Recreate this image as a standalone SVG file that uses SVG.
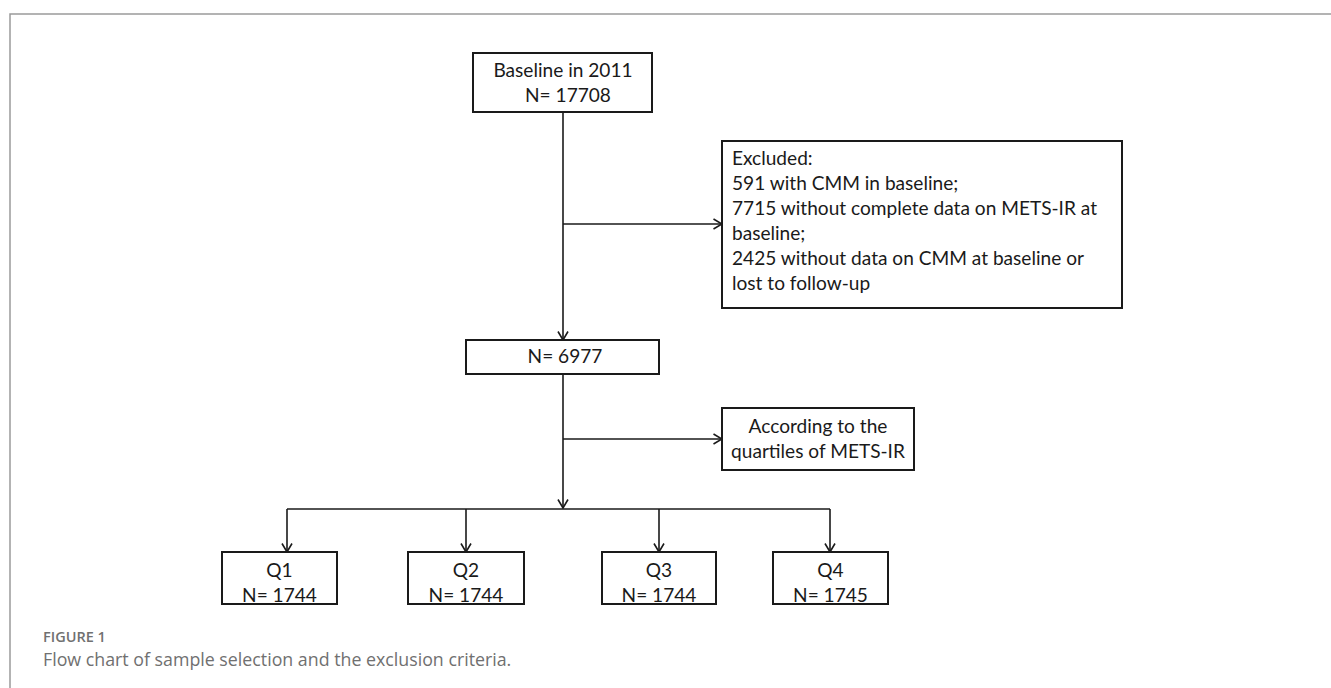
<svg xmlns="http://www.w3.org/2000/svg" width="1331" height="688" viewBox="0 0 1331 688">
<style>
.box{fill:#fff;stroke:#1a1a1a;stroke-width:2}
.t{font-family:Lato,"Open Sans","Liberation Sans",sans-serif;font-size:19.1px;fill:#1a1a1a}
.c{text-anchor:middle}
.ln{fill:none;stroke:#1a1a1a;stroke-width:1.6}
.frame{fill:none;stroke:#9a9a9a;stroke-width:1.5}
.cap{font-family:"Open Sans","Noto Sans","Liberation Sans",sans-serif;fill:#707070}
</style>
<defs>
<marker id="arr" viewBox="0 0 10 12" refX="9.5" refY="6" markerWidth="10" markerHeight="12" markerUnits="userSpaceOnUse" orient="auto">
<path d="M1,1 L9.5,6 L1,11" fill="none" stroke="#1a1a1a" stroke-width="1.6"/>
</marker>
</defs>
<rect width="1331" height="688" fill="#fff"/>
<path class="frame" d="M10,688 L10,14 L1331,14"/>
<g id="connectors">
<line class="ln" x1="563" y1="112" x2="563" y2="340" marker-end="url(#arr)"/>
<line class="ln" x1="563" y1="224" x2="722" y2="224" marker-end="url(#arr)"/>
<line class="ln" x1="563" y1="374" x2="563" y2="508" marker-end="url(#arr)"/>
<line class="ln" x1="563" y1="439" x2="722" y2="439" marker-end="url(#arr)"/>
<line class="ln" x1="287" y1="509" x2="830" y2="509"/>
<line class="ln" x1="287" y1="509" x2="287" y2="552" marker-end="url(#arr)"/>
<line class="ln" x1="466" y1="509" x2="466" y2="552" marker-end="url(#arr)"/>
<line class="ln" x1="659" y1="509" x2="659" y2="552" marker-end="url(#arr)"/>
<line class="ln" x1="830" y1="509" x2="830" y2="552" marker-end="url(#arr)"/>
</g>
<g id="baseline">
<rect class="box" x="473" y="53" width="179" height="59"/>
<text class="t c" x="563" y="77">Baseline in 2011</text>
<text class="t c" x="568" y="102">N= 17708</text>
</g>
<g id="excluded">
<rect class="box" x="722" y="141" width="400" height="167"/>
<text class="t" x="732" y="165">Excluded:</text>
<text class="t" x="732" y="190">591 with CMM in baseline;</text>
<text class="t" x="732" y="215">7715 without complete data on METS-IR at</text>
<text class="t" x="732" y="240">baseline;</text>
<text class="t" x="732" y="265">2425 without data on CMM at baseline or</text>
<text class="t" x="732" y="290">lost to follow-up</text>
</g>
<g id="n6977">
<rect class="box" x="466" y="340" width="193" height="34"/>
<text class="t c" x="565" y="363">N= 6977</text>
</g>
<g id="quartiles">
<rect class="box" x="722" y="408" width="192" height="62"/>
<text class="t c" x="818" y="433">According to the</text>
<text class="t c" x="818" y="458">quartiles of METS-IR</text>
</g>
<g id="q1">
<rect class="box" x="222" y="552" width="115" height="52"/>
<text class="t c" x="279.5" y="577">Q1</text>
<text class="t c" x="279.5" y="602">N= 1744</text>
</g>
<g id="q2">
<rect class="box" x="408" y="552" width="116" height="52"/>
<text class="t c" x="466" y="577">Q2</text>
<text class="t c" x="466" y="602">N= 1744</text>
</g>
<g id="q3">
<rect class="box" x="602" y="552" width="114" height="52"/>
<text class="t c" x="659" y="577">Q3</text>
<text class="t c" x="659" y="602">N= 1744</text>
</g>
<g id="q4">
<rect class="box" x="773" y="552" width="115" height="52"/>
<text class="t c" x="830.5" y="577">Q4</text>
<text class="t c" x="830.5" y="602">N= 1745</text>
</g>
<text class="cap" x="43" y="642" font-size="14.5" font-weight="600">FIGURE 1</text>
<text class="cap" x="43" y="666" font-size="17.8">Flow chart of sample selection and the exclusion criteria.</text>
</svg>
